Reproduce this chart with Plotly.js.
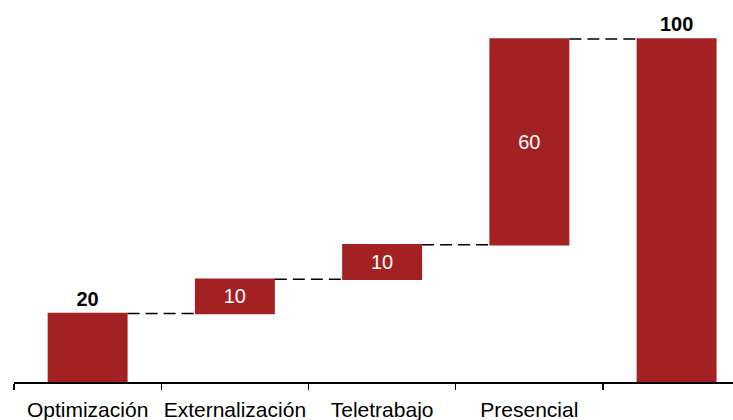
<!DOCTYPE html>
<html>
<head>
<meta charset="utf-8">
<script src="https://cdn.plot.ly/plotly-3.0.1.min.js"></script>
<style>html,body{margin:0;padding:0;background:#fff;}#chart{width:733px;height:420px;}</style>
</head>
<body>
<div id="chart"></div>
<script>
var categories = ['Optimización', 'Externalización', 'Teletrabajo', 'Presencial', 'Total'];
var tickLabels = ['Optimización', 'Externalización', 'Teletrabajo', 'Presencial', ''];
var values = [20, 10, 10, 60, 100];
var measures = ['relative', 'relative', 'relative', 'relative', 'total'];

var barColor = '#A32123';
var labels = values.map(function (v, i) {
  return measures[i] === 'total' || i === 0 ? '<b>' + v + '</b>' : String(v);
});
var positions = values.map(function (v, i) {
  return (measures[i] === 'total' || i === 0) ? 'outside' : 'inside';
});
var textColors = positions.map(function (p) { return p === 'outside' ? '#000000' : '#ffffff'; });

var trace = {
  type: 'waterfall',
  x: categories,
  y: values,
  measure: measures,
  text: labels,
  textinfo: 'text',
  textposition: positions,
  insidetextanchor: 'middle',
  constraintext: 'none',
  cliponaxis: false,
  textfont: { family: 'Liberation Sans, Arial, sans-serif', size: 20, color: textColors },
  width: 0.543,
  increasing: { marker: { color: barColor } },
  decreasing: { marker: { color: barColor } },
  totals: { marker: { color: barColor } },
  connector: { mode: 'between', line: { color: '#000000', width: 1.5, dash: '12px,6px' } },
  hoverinfo: 'none'
};

var layout = {
  width: 733,
  height: 420,
  margin: { l: 14, r: 0, t: 0, b: 38 },
  paper_bgcolor: '#ffffff',
  plot_bgcolor: '#ffffff',
  showlegend: false,
  font: { family: 'Liberation Sans, Arial, sans-serif', color: '#000000' },
  xaxis: {
    type: 'category',
    range: [-0.5, 4.383],
    tickvals: categories,
    ticktext: tickLabels,
    tickangle: 0,
    tickson: 'boundaries',
    ticks: 'outside',
    ticklen: 6,
    tickwidth: 1.5,
    tickcolor: '#000000',
    showline: true,
    linecolor: '#000000',
    linewidth: 1.5,
    showgrid: false,
    zeroline: false,
    tickfont: { family: 'Liberation Sans, Arial, sans-serif', size: 21, color: '#000000' },
    ticklabelstandoff: 8,
    automargin: false
  },
  yaxis: {
    range: [0, 111.4],
    visible: false,
    showgrid: false,
    zeroline: false
  }
};

Plotly.newPlot('chart', [trace], layout, { staticPlot: true, displayModeBar: false });
</script>
</body>
</html>
